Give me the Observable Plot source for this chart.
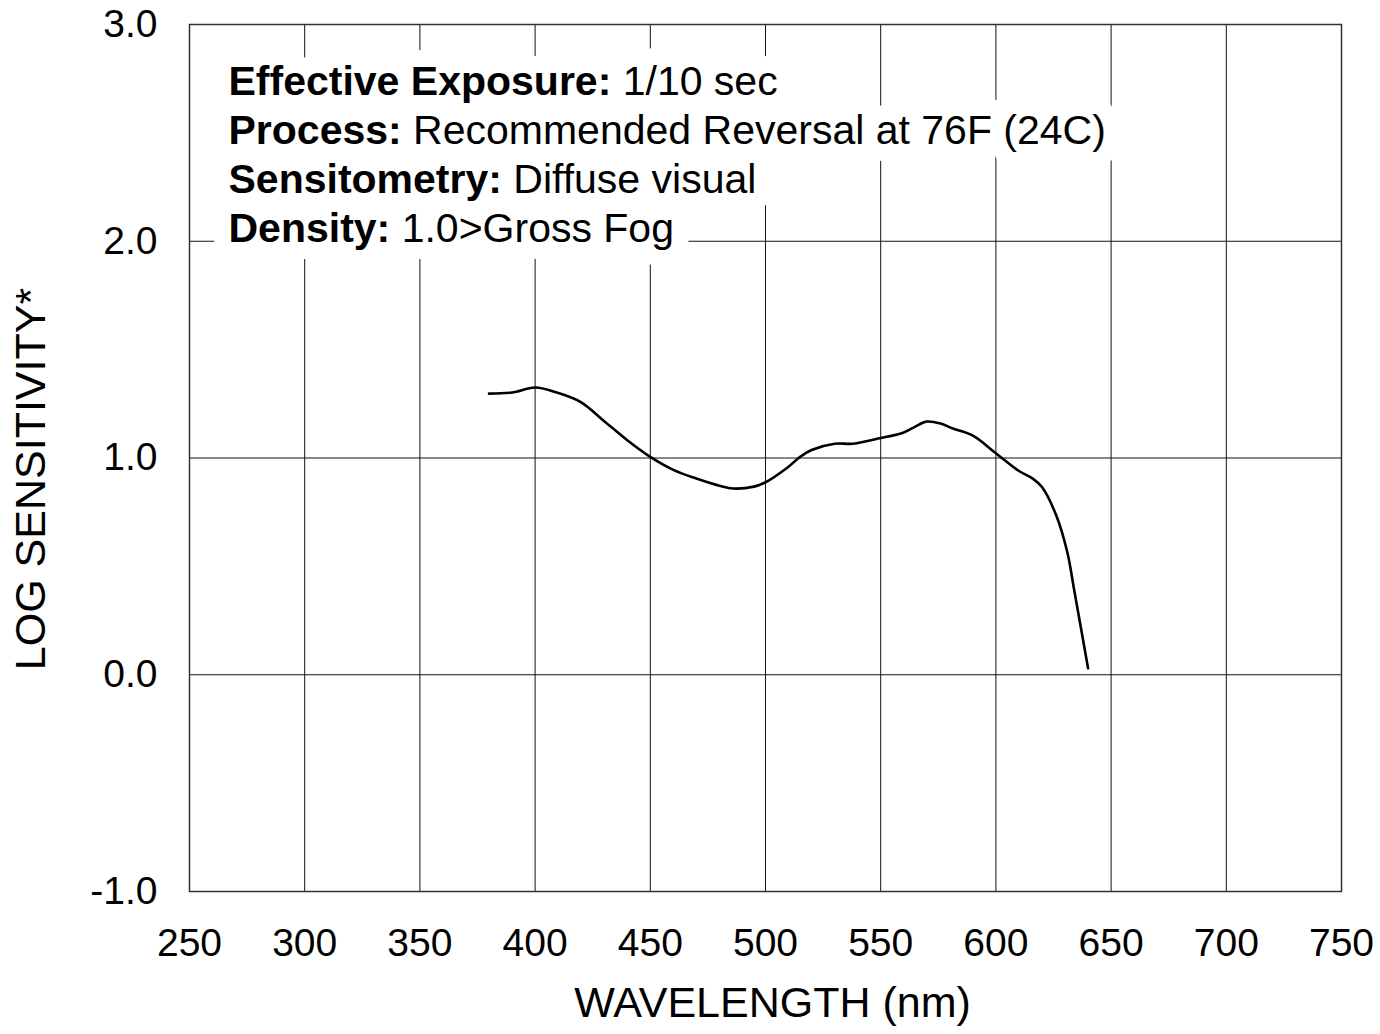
<!DOCTYPE html>
<html>
<head>
<meta charset="utf-8">
<script src="https://cdn.jsdelivr.net/npm/d3@7"></script>
<script src="https://cdn.jsdelivr.net/npm/@observablehq/plot@0.6"></script>
<style>
  html, body { margin: 0; padding: 0; background: #fff; }
</style>
</head>
<body>
<div id="chart"></div>
<script>
// ---- data ----
const wavelength = [380, 390, 400, 410, 420, 430, 440, 450, 460, 470, 480, 486, 495, 500, 510, 515, 520, 530, 538, 550, 560, 565, 570, 576, 581, 590, 600, 610, 616, 620, 626, 631, 634, 640];
const logSensitivity = [1.297, 1.302, 1.325, 1.30, 1.257, 1.17, 1.082, 1.005, 0.945, 0.905, 0.872, 0.859, 0.868, 0.888, 0.96, 1.005, 1.037, 1.066, 1.066, 1.092, 1.118, 1.145, 1.168, 1.159, 1.137, 1.103, 1.022, 0.94, 0.905, 0.866, 0.74, 0.565, 0.39, 0.03];
const xTicks = [250, 300, 350, 400, 450, 500, 550, 600, 650, 700, 750];
const yTicks = [-1, 0, 1, 2, 3];
const noteLabels = ["Effective Exposure:", "Process:", "Sensitometry:", "Density:"];
const noteValues = ["1/10 sec", "Recommended Reversal at 76F (24C)", "Diffuse visual", "1.0>Gross Fog"];
const xTitle = "WAVELENGTH (nm)";
const yTitle = "LOG SENSITIVITY*";

const data = wavelength.map((w, i) => ({w, s: logSensitivity[i]}));

const FONT = "'Liberation Sans', Arial, Helvetica, sans-serif";
const NOTE_SIZE = 41;
const ctx = document.createElement("canvas").getContext("2d");
ctx.font = `bold ${NOTE_SIZE}px ${FONT}`;
const labelWidths = noteLabels.map(t => ctx.measureText(t + " ").width);

const noteDx = 39;          // offset from frame left
const noteBase = [70, 119, 168, 217]; // baseline offsets from frame top

const noteMarks = [];
const halo = {fill: "white", stroke: "white", strokeWidth: 34, strokeLinejoin: "round"};
noteLabels.forEach((lab, i) => {
  noteMarks.push(Plot.text([lab], {frameAnchor: "top-left", textAnchor: "start", lineAnchor: "bottom", dx: noteDx, dy: noteBase[i], fontSize: NOTE_SIZE, fontWeight: "bold", ...halo}));
  noteMarks.push(Plot.text([noteValues[i]], {frameAnchor: "top-left", textAnchor: "start", lineAnchor: "bottom", dx: noteDx + labelWidths[i], dy: noteBase[i], fontSize: NOTE_SIZE, ...halo}));
});
noteLabels.forEach((lab, i) => {
  noteMarks.push(Plot.text([lab], {frameAnchor: "top-left", textAnchor: "start", lineAnchor: "bottom", dx: noteDx, dy: noteBase[i], fontSize: NOTE_SIZE, fontWeight: "bold", fill: "black"}));
  noteMarks.push(Plot.text([noteValues[i]], {frameAnchor: "top-left", textAnchor: "start", lineAnchor: "bottom", dx: noteDx + labelWidths[i], dy: noteBase[i], fontSize: NOTE_SIZE, fill: "black"}));
});

const chart = Plot.plot({
  width: 1380,
  height: 1034,
  marginLeft: 189,
  marginRight: 39,
  marginTop: 24,
  marginBottom: 143,
  style: {fontFamily: FONT, fontSize: "38px", background: "white", color: "black"},
  x: {domain: [250, 750], label: null},
  y: {domain: [-1, 3], label: null},
  marks: [
    Plot.gridX(xTicks, {stroke: "#111", strokeOpacity: 1, strokeWidth: 1}),
    Plot.gridY(yTicks, {stroke: "#111", strokeOpacity: 1, strokeWidth: 1}),
    ...noteMarks,
    Plot.frame({stroke: "#333", strokeWidth: 1.5}),
    Plot.axisX(xTicks, {tickSize: 0, tickPadding: 37, fontSize: 39, label: null, tickFormat: d => String(d)}),
    Plot.axisY(yTicks, {tickSize: 0, tickPadding: 32, fontSize: 39, label: null, tickFormat: d => d.toFixed(1)}),
    Plot.line(data, {x: "w", y: "s", curve: "catmull-rom", stroke: "black", strokeWidth: 2.6}),
    Plot.text([xTitle], {frameAnchor: "bottom", dx: 7, dy: 112, fontSize: 43, textAnchor: "middle", lineAnchor: "middle", fill: "black"}),
    Plot.text([yTitle], {frameAnchor: "left", dx: -158, dy: 21, rotate: -90, fontSize: 43, textAnchor: "middle", lineAnchor: "middle", fill: "black"})
  ]
});
document.getElementById("chart").appendChild(chart);
</script>
</body>
</html>
